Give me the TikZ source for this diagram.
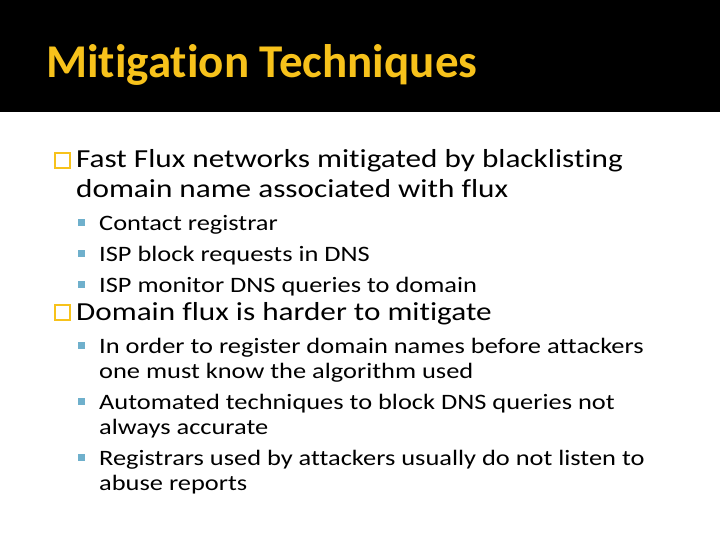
\documentclass[tikz,border=0pt]{standalone}
\usepackage{fontspec}
\setmainfont{Carlito}[Ligatures=NoCommon]
\newfontfamily\widefont{Carlito}[FakeStretch=1.2,Ligatures=NoCommon]
\definecolor{titleyellow}{HTML}{F7C21B}
\definecolor{subblue}{HTML}{6FB0CC}
\tikzset{
  mainitem/.style={anchor=base west, inner sep=0pt, font=\widefont\fontsize{26}{30}\selectfont},
  subitem/.style={anchor=base west, inner sep=0pt, font=\widefont\fontsize{22}{25}\selectfont},
  mainbox/.style={draw=titleyellow, line width=1.6pt},
  subbox/.style={fill=subblue}
}
\begin{document}
\begin{tikzpicture}[x=1pt,y=-1pt]
  \useasboundingbox (0,0) rectangle (720,540);
  \fill[black] (0,0) rectangle (720,112);
  \node[anchor=base west, inner sep=0pt, text=titleyellow, font=\fontsize{47}{50}\bfseries\selectfont] (title) at (46,78) {Mitigation Techniques};
  % first point
  \draw[mainbox] (55,153) rectangle (70,168);
  \node[mainitem] (fast1) at (76,168) {Fast Flux networks mitigated by blacklisting};
  \node[mainitem] (fast2) at (76,197) {domain name associated with flux};
  \foreach \y/\txt [count=\i] in {230/Contact registrar, 261/ISP block requests in DNS, 292/ISP monitor DNS queries to domain} {
    \fill[subbox] (78,\y-11) rectangle (85,\y-4);
    \node[subitem] (fastsub\i) at (99,\y) {\txt};
  }
  % second point
  \draw[mainbox] (55,305) rectangle (70,320);
  \node[mainitem] (dom) at (76,320) {Domain flux is harder to mitigate};
  \foreach \y in {353,409,465} \fill[subbox] (78,\y-11) rectangle (85,\y-4);
  \node[subitem] (domsub1a) at (99,353) {In order to register domain names before attackers};
  \node[subitem] (domsub1b) at (99,378) {one must know the algorithm used};
  \node[subitem] (domsub2a) at (99,409) {Automated techniques to block DNS queries not};
  \node[subitem] (domsub2b) at (99,434) {always accurate};
  \node[subitem] (domsub3a) at (99,465) {Registrars used by attackers usually do not listen to};
  \node[subitem] (domsub3b) at (99,490) {abuse reports};
\end{tikzpicture}
\end{document}
